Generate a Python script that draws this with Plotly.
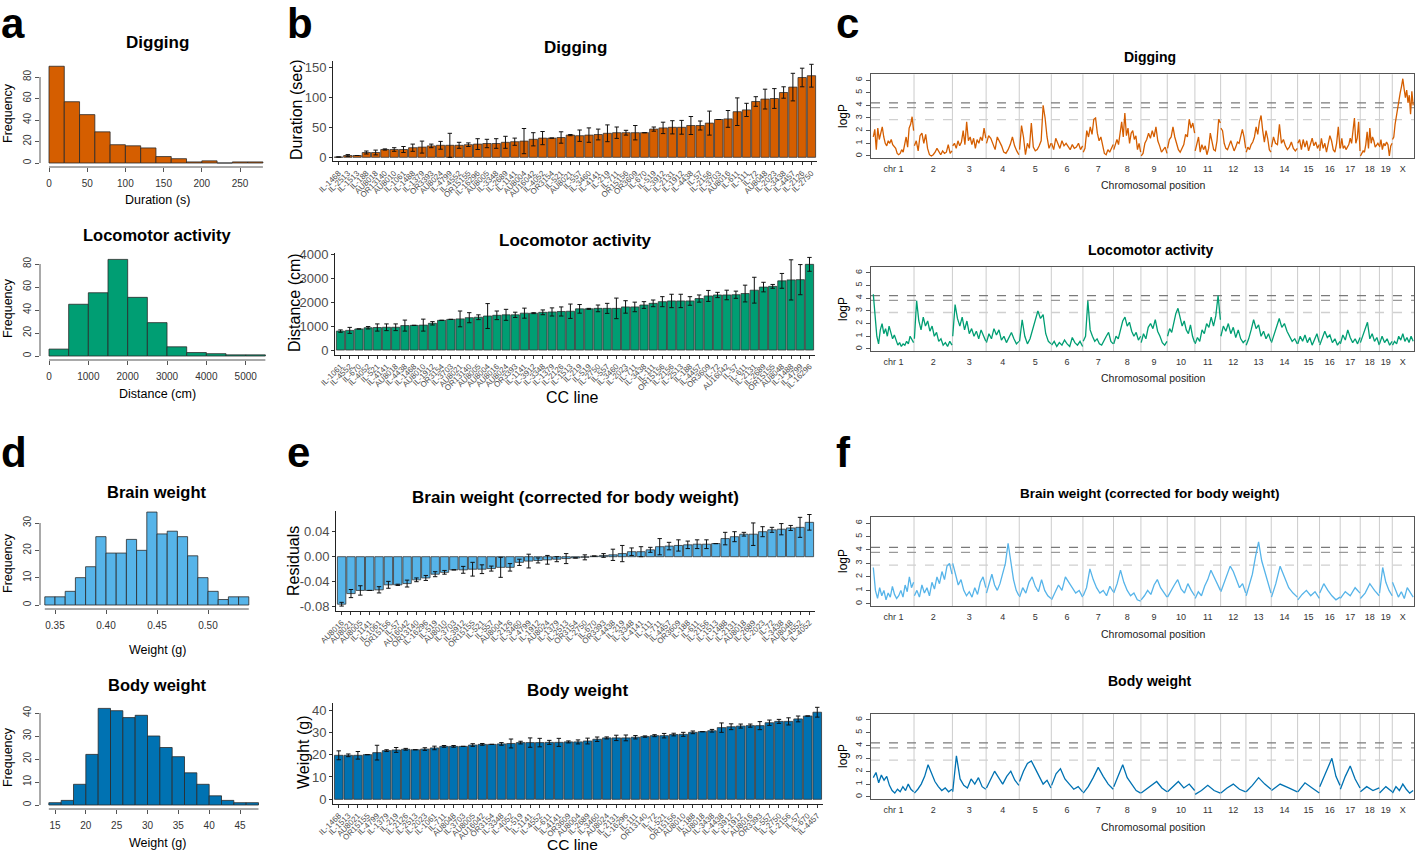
import plotly.graph_objects as go

W, H = 1417, 853
FONT = "Liberation Sans, Arial, Helvetica, sans-serif"
ORANGE, GREEN, SKY, BLUE = "#D55E00", "#009E73", "#56B4E9", "#0072B2"

# ---------------- histograms (panels a, d) ----------------
dig_hist_edges = [0, 20, 40, 60, 80, 100, 120, 140, 160, 180, 200, 220, 240, 260, 280]
dig_hist_counts = [90, 57, 45, 29, 17, 16, 14, 6, 4, 1, 2, 0, 1, 1]
loco_hist_edges = [0, 500, 1000, 1500, 2000, 2500, 3000, 3500, 4000, 4500, 5000, 5500]
loco_hist_counts = [6, 45, 55, 84, 51, 29, 8, 3, 2, 1, 1]
brain_hist_edges = [0.34, 0.35, 0.36, 0.37, 0.38, 0.39, 0.40, 0.41, 0.42, 0.43, 0.44,
                    0.45, 0.46, 0.47, 0.48, 0.49, 0.50, 0.51, 0.52, 0.53, 0.54]
brain_hist_counts = [3, 3, 5, 10, 14, 25, 19, 19, 24, 20, 34, 26, 27, 25, 18, 10, 5, 2, 3, 3]
body_hist_edges = [14, 16, 18, 20, 22, 24, 26, 28, 30, 32, 34, 36, 38, 40, 42, 44, 46, 48]
body_hist_counts = [1, 2, 9, 22, 42, 41, 38, 39, 30, 25, 21, 14, 9, 4, 2, 1, 1]

# ---------------- CC line means (panels b, e) ----------------
dig_lines = ["IL-1468", "IL-2513", "IL-1513", "IL-188", "AU8018", "OR13140", "AU8010", "IL-1061",
             "IL-1488", "IL-1379", "OR3393", "AU8024", "IL-4799", "IL-4552", "OR15155", "IL-16296",
             "AU8005", "IL-3348", "IL-2689", "IL-1141", "AU8004", "AU16042", "IL-4052", "OR3154",
             "IL-521", "AU8021", "IL-557", "IL-3460", "IL-4141", "IL-219", "IL-711", "OR15156",
             "OR3609", "IL-670", "IL-519", "IL-3912", "IL-2131", "IL-1912", "IL-4438", "IL-57",
             "IL-2156", "IL-3703", "AU8016", "IL-611", "IL-111", "IL-72", "AU8048", "IL-2023",
             "IL-3438", "IL-4457", "IL-2126", "IL-2750"]
dig_mean = [0.5, 3, 3, 8, 8, 13, 13, 13, 16, 17, 19, 20, 20, 20, 21, 22, 23, 23, 25, 26, 27, 30,
            32, 32, 33, 37, 36, 37, 38, 40, 41, 41, 41, 41, 47, 49, 50, 50, 53, 53, 57, 63, 64,
            76, 79, 93, 97, 98, 108, 117, 133, 136]
dig_se = [0, 1.5, 0, 2.5, 4, 1, 3, 5, 6, 10, 3, 6.5, 20, 5, 3, 9, 7, 8, 10, 6, 21, 11, 11, 0,
          9.5, 1, 9.5, 12, 9, 14, 9.5, 4, 12, 0, 3.5, 9.5, 11, 11.5, 15, 7.5, 20, 0, 14, 23, 11,
          8, 16.5, 16.5, 9.5, 23, 15.5, 19]

loco_lines = ["IL-1061", "IL-4552", "IL-670", "IL-4052", "IL-521", "IL-4141", "AU8018", "IL-4438",
              "IL-1468", "AU8010", "IL-1912", "OR3154", "IL-3703", "AU8021", "OR13140", "AU8005",
              "AU8004", "AU8016", "AU8024", "OR3393", "IL-1141", "IL-3912", "IL-3348", "IL-1379",
              "IL-2126", "IL-1513", "IL-219", "IL-519", "IL-2750", "IL-557", "IL-3460", "IL-2023",
              "IL-711", "IL-3438", "IL-111", "OR15156", "IL-2156", "IL-2513", "IL-188", "IL-4457",
              "OR3609", "IL-72", "AU16042", "IL-57", "IL-611", "IL-2131", "IL-2689", "OR15155",
              "AU8048", "IL-1488", "IL-4799", "IL-16296"]
loco_mean = [790, 820, 880, 930, 940, 950, 950, 1020, 1030, 1040, 1115, 1240, 1280, 1300, 1350,
             1370, 1420, 1450, 1470, 1470, 1540, 1540, 1575, 1590, 1610, 1620, 1720, 1720, 1740,
             1740, 1740, 1800, 1800, 1880, 1950, 2020, 2050, 2050, 2050, 2150, 2260, 2300, 2300,
             2310, 2360, 2500, 2630, 2660, 2890, 2930, 2940, 3580]
loco_se = [50, 125, 0, 50, 150, 140, 140, 230, 0, 250, 70, 0, 0, 330, 210, 100, 520, 180, 230,
           110, 210, 20, 100, 170, 190, 300, 180, 20, 140, 210, 430, 260, 200, 140, 140, 210, 280,
           280, 180, 150, 230, 110, 200, 150, 350, 540, 200, 80, 310, 840, 630, 290]

brain_lines = ["AU8016", "AU8021", "AU8005", "IL-1141", "IL-1061", "OR15156", "IL-57", "AU16042",
               "OR13140", "IL-16296", "IL-519", "AU8010", "IL-3703", "IL-3912", "OR15155", "IL-521",
               "IL-557", "AU8004", "IL-2126", "IL-3460", "IL-4799", "IL-1912", "AU8024", "IL-1379",
               "IL-2513", "OR3154", "IL-2750", "IL-670", "OR3393", "IL-4438", "IL-219", "IL-3348",
               "IL-4141", "IL-111", "IL-711", "IL-4457", "OR3609", "IL-188", "IL-611", "IL-2156",
               "IL-1513", "IL-1488", "IL-2131", "AU8018", "IL-2689", "IL-2023", "IL-72", "IL-3438",
               "AU8048", "IL-4552", "IL-4052"]
brain_mean = [-0.076, -0.059, -0.054, -0.054, -0.053, -0.045, -0.045, -0.043, -0.037, -0.034,
              -0.028, -0.025, -0.021, -0.021, -0.020, -0.020, -0.019, -0.017, -0.017, -0.009,
              -0.007, -0.006, -0.005, -0.004, -0.003, -0.002, -0.001, 0.001, 0.002, 0.003, 0.005,
              0.008, 0.008, 0.011, 0.016, 0.017, 0.018, 0.019, 0.020, 0.020, 0.021, 0.029, 0.032,
              0.036, 0.036, 0.040, 0.043, 0.044, 0.046, 0.047, 0.055]
brain_se = [0.003, 0.0065, 0.0075, 0, 0.005, 0.0055, 0.001, 0.0055, 0.003, 0.004, 0.004, 0.003, 0,
            0.0055, 0.011, 0.007, 0.004, 0.016, 0.006, 0.005, 0.011, 0.004, 0.007, 0.004, 0.008, 0,
            0.004, 0, 0.003, 0.009, 0.013, 0.006, 0.008, 0.004, 0.013, 0.006, 0.009, 0.006, 0.007,
            0.007, 0, 0.010, 0.008, 0.003, 0.018, 0.008, 0.004, 0.009, 0.004, 0.016, 0.0125]

body_lines = ["IL-1468", "IL-1513", "AU8021", "OR15155", "IL-4799", "IL-1379", "IL-219", "IL-2126",
              "IL-2513", "IL-2023", "IL-1061", "IL-711", "AU8048", "IL-3703", "AU8005", "AU16042",
              "OR3154", "IL-3348", "IL-4052", "IL-519", "IL-1141", "IL-4552", "IL-611", "IL-4141",
              "OR3609", "AU8004", "IL-2689", "IL-3460", "AU8024", "IL-2131", "IL-16296", "IL-111",
              "OR13140", "IL-72", "IL-521", "OR15156", "AU8010", "IL-188", "AU8018", "IL-3438",
              "IL-4438", "IL-3912", "IL-1912", "AU8016", "OR3393", "IL-557", "IL-2750", "IL-2156",
              "IL-57", "IL-670", "IL-4457"]
body_mean = [19.7, 19.7, 19.7, 20.0, 20.9, 21.8, 22.1, 22.4, 22.2, 22.5, 23.0, 23.7, 23.7, 23.7,
             24.3, 24.6, 24.6, 24.8, 25.0, 25.4, 25.4, 25.4, 25.5, 25.5, 25.7, 25.7, 26.1, 26.9,
             27.5, 27.5, 27.5, 27.8, 28.1, 28.5, 28.5, 29.0, 29.1, 30.0, 30.3, 30.7, 32.1, 32.5,
             32.8, 33.0, 33.0, 34.3, 34.9, 34.9, 36.0, 37.3, 39.0]
body_se = [2.0, 0.6, 1.7, 0, 3.3, 0.4, 1.1, 0.4, 0, 0.6, 0.8, 0.4, 0.4, 0, 0.6, 0.4, 0, 0.6, 2.0,
           0.6, 2.1, 1.9, 0.9, 1.8, 0.45, 0.9, 1.3, 1.0, 0.45, 1.2, 1.3, 0.75, 0.3, 0.45, 1.0, 0.6,
           0.9, 0.6, 0, 0.6, 2.1, 1.3, 0.9, 0.7, 1.8, 1.2, 0.9, 1.6, 1.3, 0, 2.2]

# ---------------- genome scans (panels c, f) ----------------
chr_names = ["chr 1", "2", "3", "4", "5", "6", "7", "8", "9", "10", "11", "12", "13", "14", "15",
             "16", "17", "18", "19", "X"]
chr_len = [195, 182, 160, 157, 152, 150, 145, 130, 125, 131, 122, 120, 120, 125, 104, 98, 95, 91,
           61, 100]
thr_levels = [4.2, 3.82, 2.87]

dig_lod = [
    [1.5, 2.1, 0.5, 2.2, 1.3, 1.9, 2.3, 1.5, 1.0, 0.8, 1.2, 1.0, 1.3, 0.9, 0.7, 0.6, 0.2, 0.1,
     0.2, 0.5, 0.3, 0.9, 1.5, 0.7, 2.2, 2.5, 3.1, 2.0],
    [0.8, 1.2, 0.4, 1.6, 1.8, 1.0, 1.7, 0.6, 0.1, 0.0, 0.1, 0.3, 0.6, 0.3, 0.1, 0.4, 0.2, 0.3,
     0.9, 0.2, 0.4],
    [0.8, 1.0, 0.6, 1.2, 0.8, 1.1, 2.0, 0.9, 2.7, 1.2, 1.5, 0.9, 1.4, 0.6, 1.3, 1.0, 1.5, 1.2,
     2.2, 1.4],
    [1.0, 1.6, 1.4, 1.0, 0.5, 1.5, 1.2, 0.8, 0.3, 0.2, 0.5, 0.9, 1.5, 0.8, 0.4, 0.1],
    [0.5, 2.4, 1.5, 0.1, 1.0, 0.6, 2.6, 0.7, 0.4, 0.5, 0.8, 1.2, 4.0, 3.0, 1.5, 0.6, 1.0],
    [1.0, 0.5, 1.4, 1.0, 0.6, 1.2, 0.8, 1.0, 0.7, 0.5, 0.9, 0.6, 0.7, 1.0, 0.5, 0.8],
    [0.3, 0.6, 2.0, 1.5, 2.3, 1.7, 2.9, 3.0, 1.8, 1.2, 1.5, 0.9, 0.2, 0.1, 0.5, 0.3, 0.6, 0.9],
    [0.5, 0.9, 1.3, 0.9, 2.0, 2.7, 1.5, 3.4, 1.6, 2.2, 1.0, 1.8, 2.0, 1.3, 1.6, 0.5, 1.0, 0.3],
    [0.0, 0.2, 1.0, 1.3, 1.8, 1.4, 2.0, 1.5, 2.3, 1.2, 0.8, 0.3, 0.5, 0.7, 0.2],
    [0.6, 1.3, 1.5, 2.3, 1.5, 1.0, 0.5, 0.3, 0.6, 0.9, 1.7, 1.5, 2.9, 2.2, 2.6, 1.8],
    [0.4, 1.0, 1.5, 0.3, 0.9, 0.5, 0.8, 0.1, 0.6, 1.8, 1.2, 0.5, 0.4, 1.2, 2.9, 2.6],
    [2.2, 2.0, 1.0, 0.6, 0.5, 0.9, 1.2, 0.8, 0.4, 0.7, 1.1, 1.0, 1.6, 2.1, 1.5, 0.6],
    [0.3, 0.7, 0.5, 0.9, 1.1, 1.5, 2.3, 1.7, 2.7, 3.2, 2.0, 1.1, 2.0, 1.4, 0.5, 0.3],
    [0.7, 1.5, 1.0, 0.9, 2.5, 1.0, 1.3, 0.8, 0.5, 0.7, 1.1, 0.6, 0.4, 0.6],
    [1.0, 1.3, 0.5, 1.3, 0.7, 1.2, 0.4, 1.0, 1.4, 0.8, 1.1, 0.6, 0.9],
    [0.4, 1.4, 0.6, 1.0, 0.3, 1.0, 1.6, 1.2, 0.5, 0.3, 1.0, 2.3, 0.6],
    [0.6, 1.4, 0.6, 0.8, 0.5, 0.7, 0.9, 1.4, 1.0, 2.0, 3.0, 1.0, 1.4, 2.7, 0.4],
    [0.0, 0.2, 0.4, 0.3, 0.9, 1.9, 0.6, 2.2, 1.0, 1.5, 1.2, 0.7, 0.9, 1.0, 0.8],
    [0.7, 1.3, 0.5, 1.0, 0.8, 1.1, 0.9, 0.0, 0.8, 1.0],
    [1.3, 1.5, 2.5, 3.2, 3.7, 4.5, 5.0, 5.5, 6.1, 5.3, 4.6, 5.2, 4.2, 4.8, 3.3, 5.1, 4.0],
]
loco_lod = [
    [4.3, 2.5, 1.0, 0.4, 1.5, 2.0, 1.2, 1.6, 1.0, 1.8, 1.3, 0.8, 1.1, 0.6, 0.3, 0.5, 0.2, 0.4,
     0.3, 0.6, 0.4, 1.0, 0.8, 0.5],
    [0.8, 3.8, 2.2, 1.5, 2.5, 1.8, 2.2, 1.4, 1.8, 1.0, 1.3, 0.6, 0.8, 0.3, 0.5, 0.2, 0.6, 0.3],
    [1.0, 3.5, 2.4, 1.8, 2.5, 1.5, 2.2, 1.2, 1.6, 1.0, 1.4, 0.8, 1.5, 1.0, 0.6],
    [0.5, 1.2, 0.8, 1.6, 1.1, 1.5, 0.7, 1.0, 0.5, 0.9, 1.3, 0.8, 0.4, 0.6],
    [0.6, 2.3, 1.0, 0.4, 0.8, 1.6, 2.2, 3.0, 2.4, 2.7, 1.2, 0.6, 0.4],
    [0.3, 0.6, 0.2, 0.5, 0.3, 0.7, 0.4, 0.2, 0.9, 0.5, 0.3, 0.6, 0.2],
    [0.6, 1.0, 3.8, 1.5, 1.0, 0.6, 0.8, 0.4, 0.3, 0.7, 1.0, 1.3, 0.6, 0.4],
    [0.4, 1.0, 0.8, 1.6, 2.2, 2.5, 1.8, 2.1, 1.4, 1.0, 1.3, 0.7, 1.0],
    [0.5, 1.2, 0.8, 1.7, 2.0, 1.6, 2.3, 1.4, 1.0, 0.5, 0.3, 0.6],
    [1.0, 1.6, 1.3, 2.2, 2.8, 3.2, 2.4, 1.8, 2.2, 1.5, 1.2, 1.9, 1.0, 0.5],
    [0.4, 0.9, 0.6, 1.5, 1.2, 2.0, 1.7, 2.5, 1.8, 2.6, 4.2, 2.3],
    [1.0, 1.8, 1.4, 2.0, 1.2, 1.7, 0.9, 1.5, 0.8, 0.5, 0.7],
    [0.3, 0.8, 1.5, 2.3, 1.6, 1.9, 1.0, 1.4, 0.8, 1.2, 0.6],
    [0.5, 1.2, 1.8, 2.4, 1.7, 2.0, 1.4, 1.0, 0.6, 0.8, 0.4],
    [0.4, 1.0, 0.6, 1.1, 0.5, 0.9, 0.3, 0.7, 1.2, 0.5],
    [0.3, 0.8, 1.4, 0.9, 1.1, 0.5, 0.8, 0.3, 0.6],
    [0.4, 1.1, 0.7, 1.5, 0.9, 0.5, 0.8, 0.4, 0.9],
    [0.5, 1.0, 1.5, 2.1, 0.8, 1.2, 0.6, 0.9, 0.3],
    [0.4, 1.0, 0.5, 0.8, 0.3, 0.6],
    [0.3, 0.6, 0.4, 1.0, 0.7, 1.2, 0.6, 0.9, 0.5, 1.0, 0.6],
]
brain_lod = [
    [2.7, 1.0, 0.4, 1.2, 0.6, 1.0, 0.3, 0.8, 0.5, 1.3, 0.7, 0.4, 0.6, 1.0, 0.5, 1.4, 0.9, 2.0,
     1.2, 1.6],
    [0.6, 1.0, 0.5, 1.4, 0.8, 1.2, 0.6, 1.6, 1.1, 2.0, 1.5, 2.4, 1.8, 2.8, 3.0, 2.2],
    [3.0, 2.2, 1.4, 1.8, 1.0, 0.6, 0.9, 0.5, 1.2, 0.7, 1.6, 2.0, 1.2],
    [0.8, 1.6, 2.2, 1.4, 1.0, 1.5, 2.3, 3.0, 4.5, 3.2, 1.8, 1.0, 0.6],
    [0.5, 1.2, 0.8, 1.6, 2.0, 1.3, 0.9, 1.8, 1.0, 0.6, 0.4],
    [0.3, 0.8, 1.4, 1.0, 2.0, 1.6, 1.2, 0.8, 1.0, 0.5],
    [0.6, 1.2, 2.6, 1.8, 1.2, 0.8, 1.0, 0.6, 1.3, 0.9],
    [0.8, 1.5, 2.5, 1.6, 1.0, 0.6, 0.8, 0.3, 0.2],
    [0.3, 0.6, 1.0, 0.7, 1.4, 1.8, 1.2, 0.8, 0.5],
    [0.5, 1.0, 1.4, 1.8, 1.1, 0.8, 1.5, 1.0, 0.6],
    [0.4, 0.9, 0.6, 1.3, 1.8, 2.5, 2.0, 1.5, 1.0],
    [0.9, 1.5, 2.2, 2.8, 2.4, 1.8, 1.2, 1.5, 0.8],
    [0.6, 1.4, 2.2, 3.5, 4.6, 3.2, 2.4, 1.5, 0.8],
    [0.5, 1.5, 2.8, 2.0, 1.2, 0.8, 0.5],
    [0.3, 0.7, 1.0, 0.6, 0.9, 0.4],
    [0.8, 1.5, 1.0, 0.6, 0.3, 0.5],
    [0.4, 0.9, 0.6, 1.2, 0.8],
    [0.4, 0.8, 1.5, 1.0, 0.6],
    [0.8, 2.7, 1.6, 1.0, 0.6],
    [1.6, 1.0, 0.5, 0.9, 0.4, 1.2, 0.8, 0.5],
]
body_lod = [
    [1.5, 1.9, 1.1, 1.7, 1.3, 1.6, 0.9, 0.5, 0.3, 0.6, 0.4, 0.8, 0.5, 1.0, 0.6, 0.4],
    [0.3, 0.6, 1.0, 1.6, 2.5, 1.8, 1.2, 0.8, 0.5, 0.7, 0.4, 0.6],
    [0.4, 3.2, 1.4, 0.9, 0.7, 1.4, 1.0, 1.5, 0.8, 0.6],
    [0.7, 1.4, 2.0, 1.5, 1.0, 1.6, 2.0, 1.3, 0.9],
    [1.2, 2.0, 2.6, 2.8, 2.2, 1.6, 1.0, 1.3, 0.7],
    [0.9, 1.8, 2.2, 1.4, 1.0, 0.6, 0.8, 0.4],
    [0.3, 0.8, 1.5, 2.3, 1.6, 1.0, 0.6],
    [0.8, 1.6, 2.5, 1.5, 1.0, 0.5, 0.3],
    [0.3, 0.6, 0.9, 1.2, 0.7, 0.4],
    [0.4, 0.8, 1.2, 0.7, 1.0, 0.5],
    [0.2, 0.5, 0.9, 0.5, 0.3],
    [0.3, 0.7, 1.0, 0.6, 0.4],
    [0.4, 0.9, 1.5, 1.0, 0.6],
    [0.5, 1.0, 0.7, 0.4],
    [0.4, 1.1, 0.7, 0.3],
    [0.8, 1.5, 2.2, 3.0, 1.6, 0.9],
    [0.6, 1.6, 2.4, 1.4, 0.7],
    [0.4, 0.8, 0.5, 0.7],
    [0.3, 0.8, 0.4],
    [0.3, 0.8, 0.5, 1.0, 0.6, 0.3, 0.5],
]

# ---------------- helpers ----------------
fig = go.Figure()
shapes, annotations, axes = [], [], {}


def names(i):
    s = "" if i == 1 else str(i)
    return "x" + s, "y" + s, "xaxis" + s, "yaxis" + s


def lin(pa, va, pb, vb, p):
    return va + (p - pa) * (vb - va) / (pb - pa)


def ann(text, px, py, size, bold=False, color="black", xanchor="center", angle=0):
    annotations.append(dict(text=f"<b>{text}</b>" if bold else text, x=px / W, y=1 - py / H,
                            xref="paper", yref="paper", showarrow=False, xanchor=xanchor,
                            yanchor="middle", textangle=angle, borderpad=0,
                            font=dict(family=FONT, size=size, color=color)))


def hist_panel(i, edges, counts, color, box, xcal, ycal, xticks, yticks):
    l, r, t, b = box
    xn, yn, xa, ya = names(i)
    fig.add_trace(go.Bar(x=edges[:-1], y=counts, offset=0,
                         width=[edges[k + 1] - edges[k] for k in range(len(counts))],
                         marker=dict(color=color, line=dict(color="#2a2a2a", width=0.8)),
                         xaxis=xn, yaxis=yn, showlegend=False, hoverinfo="skip"))
    tf = dict(family=FONT, size=10, color="#333")
    axes[xa] = dict(domain=[l / W, r / W], anchor=yn,
                    range=[lin(*xcal, l), lin(*xcal, r)], tickvals=xticks,
                    ticks="outside", ticklen=4, tickcolor="#555", showline=False,
                    showgrid=False, zeroline=False, tickfont=tf, ticklabelstandoff=3)
    axes[ya] = dict(domain=[1 - b / H, 1 - t / H], anchor=xn,
                    range=[lin(*ycal, b), lin(*ycal, t)], tickvals=yticks, tickangle=-90,
                    ticks="outside", ticklen=4, tickcolor="#555", showline=False,
                    showgrid=False, zeroline=False, tickfont=tf)
    shapes.append(dict(type="line", xref=xn + " domain", yref=yn, x0=0, x1=0,
                       y0=yticks[0], y1=yticks[-1], line=dict(color="#555", width=1)))
    shapes.append(dict(type="line", xref=xn, yref=yn + " domain", x0=edges[0], x1=edges[-1],
                       y0=0, y1=0, line=dict(color="#555", width=1)))


def bar_panel(i, lines, means, ses, color, box, ycal, yticks, yticktext):
    l, r, t, b = box
    xn, yn, xa, ya = names(i)
    fig.add_trace(go.Bar(x=lines, y=means, width=0.9,
                         error_y=dict(type="data", array=ses, visible=True, color="#111",
                                      thickness=1, width=2.2),
                         marker=dict(color=color, line=dict(color="#333", width=0.8)),
                         xaxis=xn, yaxis=yn, showlegend=False, hoverinfo="skip"))
    n = len(lines)
    axes[xa] = dict(domain=[l / W, r / W], anchor=yn, type="category",
                    range=[-0.6, n - 0.4], tickmode="linear", tick0=0, dtick=1,
                    tickangle=-45, ticks="outside", ticklen=3,
                    tickcolor="#333", showline=True, linecolor="#222", linewidth=1,
                    showgrid=False, zeroline=False,
                    tickfont=dict(family=FONT, size=8, color="#4D4D4D"))
    axes[ya] = dict(domain=[1 - b / H, 1 - t / H], anchor=xn,
                    range=[lin(*ycal, b), lin(*ycal, t)], tickvals=yticks, ticktext=yticktext,
                    ticks="outside", ticklen=3, tickcolor="#333", showline=True,
                    linecolor="#222", linewidth=1, showgrid=False, zeroline=False,
                    tickfont=dict(family=FONT, size=13, color="#4D4D4D"))


def scan_panel(i, lod, color, box):
    l, r, t, b = box
    xn, yn, xa, ya = names(i)
    starts, acc = [], 0
    for L in chr_len:
        starts.append(acc)
        acc += L
    total = acc
    xs, ys = [], []
    for c, vals in enumerate(lod):
        n = len(vals)
        for j, v in enumerate(vals):
            xs.append(starts[c] + chr_len[c] * (0.01 + 0.98 * j / (n - 1)))
            ys.append(v)
        xs.append(None)
        ys.append(None)
    fig.add_trace(go.Scatter(x=xs, y=ys, mode="lines", line=dict(color=color, width=1.3),
                             connectgaps=False, xaxis=xn, yaxis=yn, showlegend=False,
                             hoverinfo="skip"))
    centers = [starts[c] + chr_len[c] / 2 for c in range(len(chr_len))]
    axes[xa] = dict(domain=[l / W, r / W], anchor=yn, range=[-9, total + 3],
                    tickvals=centers, ticktext=chr_names, ticks="", showline=True,
                    mirror=True, linecolor="#555", linewidth=1, showgrid=False,
                    zeroline=False, tickfont=dict(family=FONT, size=9, color="#333"),
                    ticklabelstandoff=2)
    axes[ya] = dict(domain=[1 - b / H, 1 - t / H], anchor=xn, range=[-0.16, 6.45],
                    tickvals=[0, 1, 2, 3, 4, 5, 6], tickangle=-90, ticks="outside",
                    ticklen=4, tickcolor="#555", showline=True, mirror=True,
                    linecolor="#555", linewidth=1, showgrid=False, zeroline=False,
                    tickfont=dict(family=FONT, size=9, color="#333"))
    for c in range(1, len(chr_len)):
        shapes.append(dict(type="line", xref=xn, yref=yn + " domain", x0=starts[c],
                           x1=starts[c], y0=0, y1=1, layer="below",
                           line=dict(color="#cccccc", width=1)))
    for lev, col in zip(thr_levels, ["#7a7a7a", "#9a9a9a", "#d0d0d0"]):
        shapes.append(dict(type="line", xref=xn + " domain", yref=yn, x0=0, x1=1, y0=lev,
                           y1=lev, layer="below", line=dict(color=col, width=1.3, dash="dash")))


# ---------------- panel a / d : histograms ----------------
hist_panel(1, dig_hist_edges, dig_hist_counts, ORANGE, (40, 270, 60, 167),
           (49, 0, 240, 250), (163, 0, 77, 80), [0, 50, 100, 150, 200, 250], [0, 20, 40, 60, 80])
hist_panel(2, loco_hist_edges, loco_hist_counts, GREEN, (40, 270, 252, 360),
           (49, 0, 245.7, 5000), (356, 0, 264, 80), [0, 1000, 2000, 3000, 4000, 5000],
           [0, 20, 40, 60, 80])
hist_panel(3, brain_hist_edges, brain_hist_counts, SKY, (40, 270, 510, 609),
           (55, 0.35, 208, 0.50), (605, 0, 523, 30), [0.35, 0.40, 0.45, 0.50], [0, 10, 20, 30])
hist_panel(4, body_hist_edges, body_hist_counts, BLUE, (40, 270, 703, 809),
           (55, 15, 240, 45), (805, 0, 713, 40), [15, 20, 25, 30, 35, 40, 45],
           [0, 10, 20, 30, 40])
axes["xaxis3"]["ticktext"] = ["0.35", "0.40", "0.45", "0.50"]

ann("Digging", 157, 43, 17, bold=True)
ann("Frequency", 8, 113, 12.5, angle=-90)
ann("Duration (s)", 157, 200, 12.5)
ann("Locomotor activity", 157, 235, 16.5, bold=True)
ann("Frequency", 8, 308, 12.5, angle=-90)
ann("Distance (cm)", 157, 394, 12.5)
ann("Brain weight", 157, 492, 16.5, bold=True)
ann("Frequency", 8, 563, 12.5, angle=-90)
ann("Weight (g)", 157, 650, 12.5)
ann("Body weight", 157, 685, 16.5, bold=True)
ann("Frequency", 8, 757, 12.5, angle=-90)
ann("Weight (g)", 157, 843, 12.5)

# ---------------- panel b / e : CC line bars ----------------
bar_panel(5, dig_lines, dig_mean, dig_se, ORANGE, (333, 817, 61, 161.4),
          (157.3, 0, 67.3, 150), [0, 50, 100, 150], ["0", "50", "100", "150"])
bar_panel(6, loco_lines, loco_mean, loco_se, GREEN, (335, 815, 253, 354.6),
          (350, 0, 254.3, 4000), [0, 1000, 2000, 3000, 4000],
          ["0", "1000", "2000", "3000", "4000"])
bar_panel(7, brain_lines, brain_mean, brain_se, SKY, (336, 815, 510.7, 611),
          (556.7, 0, 531.7, 0.04), [-0.08, -0.04, 0.0, 0.04],
          ["-0.08", "-0.04", "0.00", "0.04"])
bar_panel(8, body_lines, body_mean, body_se, BLUE, (333, 823, 703, 804),
          (799.3, 0, 710, 40), [0, 10, 20, 30, 40], ["0", "10", "20", "30", "40"])

ann("Digging", 575, 47, 17, bold=True)
ann("Duration (sec)", 296, 110, 16, angle=-90)
ann("Locomotor activity", 575, 240, 17, bold=True)
ann("Distance (cm)", 294, 303, 16, angle=-90)
ann("CC line", 572, 397, 16)
ann("Brain weight (corrected for body weight)", 575, 497, 17, bold=True)
ann("Residuals", 293, 561, 16, angle=-90)
ann("Body weight", 577, 690, 17, bold=True)
ann("Weight (g)", 303, 752, 16, angle=-90)
ann("CC line", 572, 844, 15.5)

# ---------------- panel c / f : genome scans ----------------
scan_panel(9, dig_lod, ORANGE, (871, 1414, 74.3, 158))
scan_panel(10, loco_lod, GREEN, (871, 1414, 267, 351))
scan_panel(11, brain_lod, SKY, (871, 1414, 517, 606))
scan_panel(12, body_lod, BLUE, (871, 1414, 714, 799))

for ty, lab, xt, yt in [(57, "Digging", 185, 116), (250, "Locomotor activity", 378, 309),
                        (494, "Brain weight (corrected for body weight)", 634, 561),
                        (681, "Body weight", 827, 756)]:
    ann(lab, 1150, ty, 14 if len(lab) < 20 else 13.5, bold=True)
    ann("Chromosomal position", 1153, xt, 10.5, color="#222")
    ann("logP", 843, yt, 12, angle=-90)

# ---------------- panel letters ----------------
for letter, px, py in [("a", 0, 24), ("b", 286, 24), ("c", 835, 24),
                       ("d", 0, 452), ("e", 286, 452), ("f", 835, 452)]:
    ann(letter, px, py, 42, bold=True, xanchor="left")

fig.update_layout(width=W, height=H, margin=dict(l=0, r=0, t=0, b=0, autoexpand=False),
                  autosize=False, plot_bgcolor="white", paper_bgcolor="white",
                  showlegend=False, shapes=shapes, annotations=annotations,
                  font=dict(family=FONT), hovermode=False)
fig.update_layout(**axes)
fig.write_html("out.html", config={"displayModeBar": False, "staticPlot": True},
               post_script="document.body.style.margin='0px';"
                           "document.body.style.padding='0px';"
                           "document.body.style.overflow='hidden';")
